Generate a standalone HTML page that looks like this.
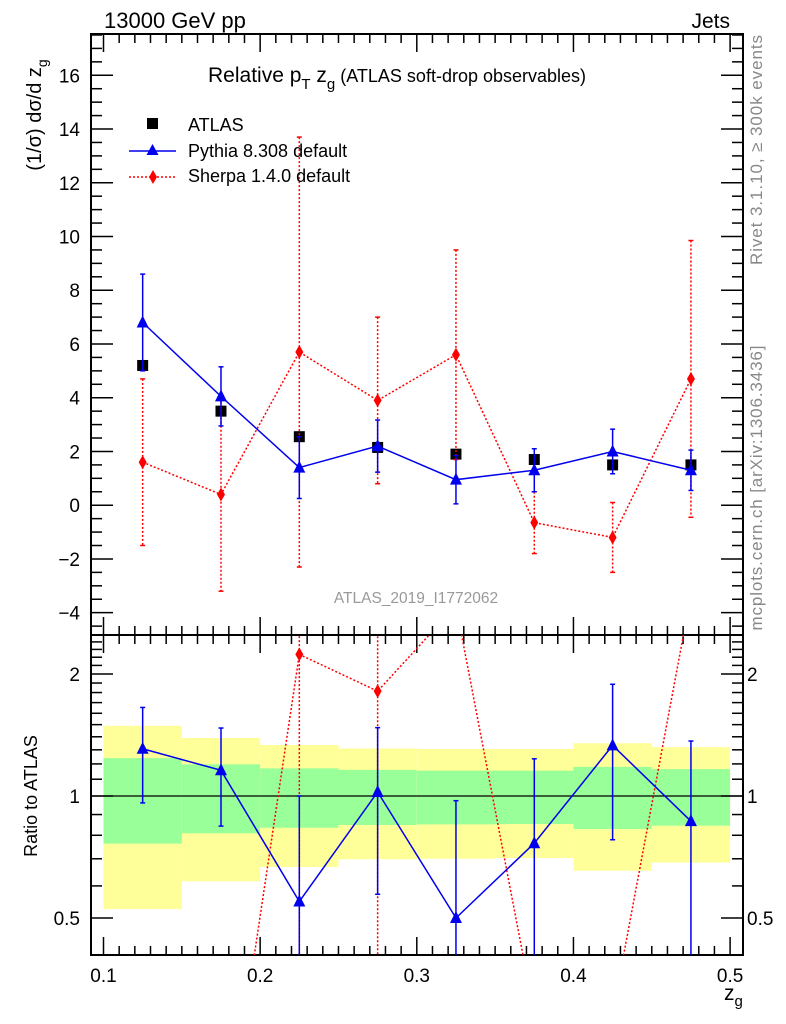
<!DOCTYPE html>
<html><head><meta charset="utf-8"><style>
html,body{margin:0;padding:0;background:#fff;width:786px;height:1024px;overflow:hidden;}
svg{display:block;font-family:"Liberation Sans",sans-serif;}
</style></head><body>
<svg id="chart" width="786" height="1024" viewBox="0 0 786 1024" xmlns="http://www.w3.org/2000/svg">
<defs><clipPath id="cm"><rect x="91" y="34" width="652" height="601"/></clipPath><clipPath id="cr"><rect x="91" y="635" width="652" height="320"/></clipPath></defs>
<g id="bands"></g>
<g id="grid"></g>
<g id="marks"></g>
<text x="104" y="28" font-size="22">13000 GeV pp</text>
<text x="730" y="28" font-size="21" text-anchor="end">Jets</text>
<text x="208" y="82" font-size="21">Relative p<tspan font-size="15" dy="7">T</tspan><tspan dy="-7"> z</tspan><tspan font-size="15" dy="7">g</tspan><tspan font-size="18" dy="-7"> (ATLAS soft-drop observables)</tspan></text>
<g>
<rect x="147" y="118" width="11" height="11" fill="#000"/>
<text x="188" y="131" font-size="18">ATLAS</text>
<line x1="129" y1="151" x2="176" y2="151" stroke="#0000ee" stroke-width="1.5"/>
<polygon points="152.5,144 146.5,155 158.5,155" fill="#0000ee"/>
<text x="188" y="157" font-size="18">Pythia 8.308 default</text>
<line x1="129" y1="177" x2="176" y2="177" stroke="#f00" stroke-width="1.5" stroke-dasharray="2,2"/>
<polygon points="153,170 157,177 153,184 149,177" fill="#f00"/>
<text x="188" y="182" font-size="18">Sherpa 1.4.0 default</text>
</g>
<text x="416" y="603" font-size="15.5" fill="#999" text-anchor="middle">ATLAS_2019_I1772062</text>
<text transform="translate(41,115) rotate(-90)" font-size="20" text-anchor="middle">(1/σ) dσ/d z<tspan font-size="14" dy="6">g</tspan></text>
<text transform="translate(37,796) rotate(-90)" font-size="18" text-anchor="middle">Ratio to ATLAS</text>
<text x="724" y="1000" font-size="21">z<tspan font-size="15" dy="6">g</tspan></text>
<text transform="translate(762,150) rotate(-90)" font-size="17" fill="#888" text-anchor="middle" textLength="230">Rivet 3.1.10, ≥ 300k events</text>
<text transform="translate(762,488) rotate(-90)" font-size="17" fill="#888" text-anchor="middle" textLength="285">mcplots.cern.ch [arXiv:1306.3436]</text>
</svg>
<script>
const binEdges=[0.1,0.15,0.2,0.25,0.3,0.35,0.4,0.45,0.5];
const binCenters=[0.125,0.175,0.225,0.275,0.325,0.375,0.425,0.475];
const atlasVals=[5.2,3.5,2.55,2.15,1.9,1.7,1.5,1.5];
const pythiaVals=[6.8,4.05,1.4,2.2,0.95,1.3,2.0,1.3];
const pythiaErr=[1.8,1.1,1.15,0.97,0.9,0.8,0.83,0.75];
const sherpaVals=[1.6,0.4,5.7,3.9,5.6,-0.65,-1.2,4.7];
const sherpaErr=[3.1,3.6,8.0,3.1,3.9,1.15,1.3,5.15];
const statUp=[1.24,1.197,1.17,1.16,1.155,1.155,1.18,1.165];
const statDn=[0.763,0.809,0.835,0.848,0.851,0.853,0.829,0.845];
const totUp=[1.49,1.39,1.336,1.31,1.306,1.306,1.35,1.32];
const totDn=[0.526,0.616,0.668,0.698,0.70,0.703,0.654,0.685];
const xTicks=[0.1,0.2,0.3,0.4,0.5];
const yTicks=[-4,-2,0,2,4,6,8,10,12,14,16];
const rTicks=[0.5,1,2];

const NS="http://www.w3.org/2000/svg";
const L=91,R=743,T=34,S=635,B=955;
const X=v=>103.5+(v-0.1)*1566.5;
const Y=v=>505.2-v*26.87;
const RY=v=>796-122*Math.log2(v>0?v:0.29);
function mk(p,t,a){const e=document.createElementNS(NS,t);for(const k in a)e.setAttribute(k,a[k]);p.appendChild(e);return e;}
const bands=document.getElementById('bands'),grid=document.getElementById('grid'),marks=document.getElementById('marks');

for(let i=0;i<binCenters.length;i++){
 const x0=X(binEdges[i]),x1=X(binEdges[i+1]);
 const y=mk(bands,'rect',{x:x0,y:RY(totUp[i]),width:x1-x0,height:RY(totDn[i])-RY(totUp[i]),fill:'#ffff99'});
 
 
 const g=mk(bands,'rect',{x:x0,y:RY(statUp[i]),width:x1-x0,height:RY(statDn[i])-RY(statUp[i]),fill:'#99ff99'});
 
 
}
const u=mk(grid,'line',{x1:L,x2:R,y1:RY(1),y2:RY(1),stroke:'#000','stroke-width':1.2});


mk(grid,'rect',{x:L,y:T,width:R-L,height:S-T,fill:'none',stroke:'#000','stroke-width':2});
mk(grid,'rect',{x:L,y:S,width:R-L,height:B-S,fill:'none',stroke:'#000','stroke-width':2});
for(let k=0;k<=40;k++){const v=0.1+k*0.01,x=X(v),maj=k%10==0;const len=maj?18:9;
 for(const [yb,dir] of [[T,1],[S,-1],[S,1],[B,-1]]){mk(grid,'line',{x1:x,x2:x,y1:yb,y2:yb+dir*len,stroke:'#000','stroke-width':1.5});}
}
xTicks.forEach(v=>{const t=mk(grid,'text',{x:X(v),y:982,'font-size':19,'text-anchor':'middle'});t.textContent=String(v);
 
 });
for(let v=-4.5;v<=17.5;v+=0.5){const y=Y(v);if(y<T||y>S)continue;const maj=Math.abs(v%2)<1e-9;const len=maj?22:11;
 mk(grid,'line',{x1:L,x2:L+len,y1:y,y2:y,stroke:'#000','stroke-width':1.5});
 mk(grid,'line',{x1:R,x2:R-len,y1:y,y2:y,stroke:'#000','stroke-width':1.5});}
yTicks.forEach(v=>{const t=mk(grid,'text',{x:80,y:Y(v)+7,'font-size':19,'text-anchor':'end'});t.textContent=v<0?'\u2212'+(-v):String(v);
 
 });
const rm=[];for(let v=0.4;v<2.55;v+=0.1)rm.push(+v.toFixed(1));
rm.forEach(v=>{const y=RY(v);if(y<S||y>B)return;const maj=rTicks.includes(v);const len=maj?22:11;
 mk(grid,'line',{x1:L,x2:L+len,y1:y,y2:y,stroke:'#000','stroke-width':1.5});
 mk(grid,'line',{x1:R,x2:R-len,y1:y,y2:y,stroke:'#000','stroke-width':1.5});});
rTicks.forEach(v=>{for(const [x,a] of [[80,'end'],[747,'start']]){const t=mk(grid,'text',{x:x,y:RY(v)+7,'font-size':19,'text-anchor':a});t.textContent=String(v);
 
 }});

const gm=mk(marks,'g',{'clip-path':'url(#cm)'}),gr=mk(marks,'g',{'clip-path':'url(#cr)'});

function series(g,vals,errs,ref,color,dash,shape,name,ratio){
 const pts=vals.map((v,i)=>[X(binCenters[i]),ratio?RY(v/ref[i]):Y(v)]);
 const line=mk(g,'polyline',{points:pts.map(p=>p.join(',')).join(' '),fill:'none',stroke:color,'stroke-width':1.5});
 if(dash)line.setAttribute('stroke-dasharray','2,2');
 
 
 vals.forEach((v,i)=>{
  const x=X(binCenters[i]);const [px,py]=pts[i];
  if(ratio&&(py<S||py>B))return;
  const hi=v+errs[i],lo=v-errs[i];
  const yh=ratio?RY(hi/ref[i]):Y(hi),yl=ratio?(lo>0?RY(lo/ref[i]):B+50):Y(lo);
  const e=mk(g,'line',{x1:x,x2:x,y1:yh,y2:yl,stroke:color,'stroke-width':1.5});
  if(dash)e.setAttribute('stroke-dasharray','2,2');
  
  
  mk(g,'line',{x1:x-2.5,x2:x+2.5,y1:yh,y2:yh,stroke:color,'stroke-width':1.5});
  mk(g,'line',{x1:x-2.5,x2:x+2.5,y1:yl,y2:yl,stroke:color,'stroke-width':1.5});
  let m;
  if(shape==='tri')m=mk(g,'polygon',{points:`${px},${py-7} ${px-6},${py+5} ${px+6},${py+5}`,fill:color});
  else m=mk(g,'polygon',{points:`${px},${py-7} ${px+4},${py} ${px},${py+7} ${px-4},${py}`,fill:color});
  
  
 });
}
atlasVals.forEach((v,i)=>{const r=mk(gm,'rect',{x:X(binCenters[i])-5.5,y:Y(v)-5.5,width:11,height:11,fill:'#000'});
 
 });
series(gm,sherpaVals,sherpaErr,atlasVals,'#f00',true,'dia','sherpa',false);
series(gm,pythiaVals,pythiaErr,atlasVals,'#0000ee',false,'tri','pythia',false);
series(gr,sherpaVals,sherpaErr,atlasVals,'#f00',true,'dia','sherpa-ratio',true);
series(gr,pythiaVals,pythiaErr,atlasVals,'#0000ee',false,'tri','pythia-ratio',true);
</script>
</body></html>
